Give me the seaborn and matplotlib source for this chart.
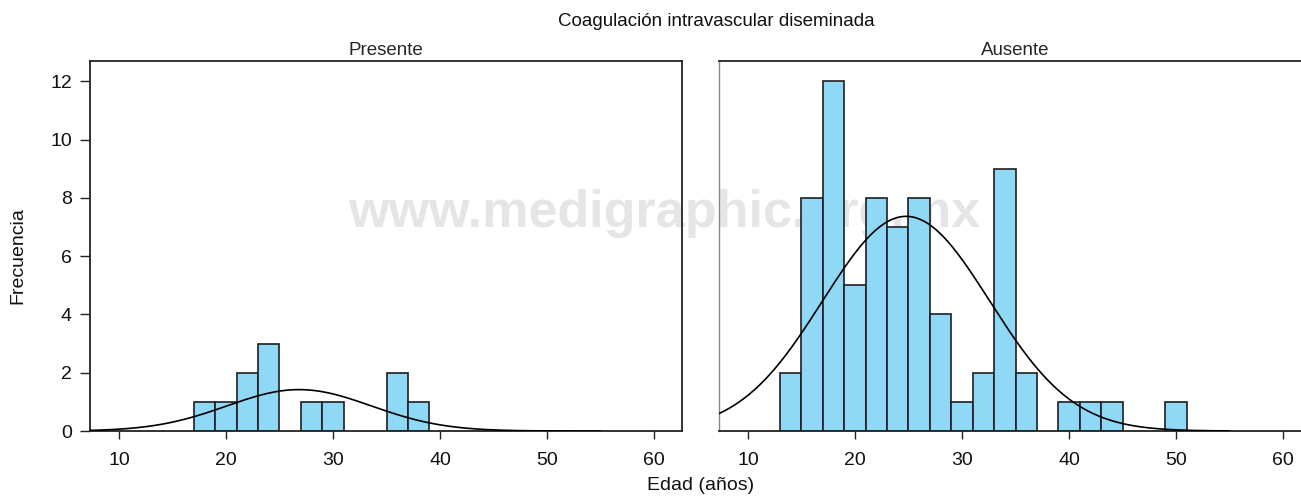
import numpy as np
import pandas as pd
import matplotlib
matplotlib.use("Agg")
import matplotlib.pyplot as plt
import seaborn as sns

# ---- data ----
presente_edad = [18, 20, 22, 24, 28, 30, 36, 38]          # bin midpoints (years)
presente_n = [1, 1, 2, 3, 1, 1, 2, 1]
ausente_edad = [14, 16, 18, 20, 22, 24, 26, 28, 30, 32, 34, 36, 40, 42, 44, 50]
ausente_n = [2, 8, 12, 5, 8, 7, 8, 4, 1, 2, 9, 2, 1, 1, 1, 1]
bin_edges = list(range(13, 53, 2))
panel_titles = ["Presente", "Ausente"]
x_ticks = [10, 20, 30, 40, 50, 60]
y_ticks = [0, 2, 4, 6, 8, 10, 12]

sns.set_theme(style="white")
plt.rcParams["font.family"] = ["Liberation Sans", "DejaVu Sans"]
plt.rcParams["font.size"] = 13

W, H = 1301, 499
fig = plt.figure(figsize=(W / 100, H / 100), dpi=100)

# watermark behind panels
wm = fig.text(664 / W, 1 - 213 / H, "www.medigraphic.org.mx", ha="center", va="center",
              fontsize=37.5, fontweight="bold", color="#e4e5e7")
wm.set_zorder(-5)

ax_l = fig.add_axes([90 / W, (H - 431) / H, 592 / W, 370 / H])
ax_r = fig.add_axes([719 / W, (H - 431) / H, 592 / W, 370 / H])

bar_color = "#8fd8f6"
edge = "#1e1e1e"
for ax, edad, n, title in [(ax_l, presente_edad, presente_n, panel_titles[0]),
                           (ax_r, ausente_edad, ausente_n, panel_titles[1])]:
    df = pd.DataFrame({"edad": edad, "n": n})
    ax.set_facecolor("none")
    ax.patch.set_alpha(0)
    sns.histplot(data=df, x="edad", weights="n", bins=bin_edges, ax=ax,
                 color=bar_color, alpha=1, edgecolor=edge, linewidth=1.2, zorder=2)
    for p in list(ax.patches):
        if p.get_height() == 0:
            p.remove()
    # fitted normal curve
    e = np.repeat(np.array(edad, float), n)
    mu, sd = e.mean(), e.std(ddof=1)
    xs = np.linspace(7.3, 55, 400)
    ys = len(e) * 2 / (sd * np.sqrt(2 * np.pi)) * np.exp(-0.5 * ((xs - mu) / sd) ** 2)
    sns.lineplot(x=xs, y=ys, ax=ax, color="black", linewidth=1.2, zorder=3)
    ax.set_xlim(7.3, 62.6)
    ax.set_ylim(0, 12.7)
    ax.set_xticks(x_ticks)
    ax.set_xlabel("")
    ax.set_ylabel("")
    ax.set_title(title, fontsize=13.5, pad=4)
    ax.tick_params(axis="x", direction="out", length=6, width=1, color="#222",
                   pad=9, labelsize=14, bottom=True, labelcolor="#111")
    for s in ax.spines.values():
        s.set_color("#222")
        s.set_linewidth(1.3)

ax_l.set_yticks(y_ticks)
ax_l.tick_params(axis="y", direction="out", length=7, width=1, color="#222",
                 pad=6, labelsize=14, left=True, labelcolor="#111")
ax_r.set_yticks([])
ax_r.spines["left"].set_color("#888")
ax_r.spines["left"].set_linewidth(1.0)

fig.text(716 / W, 1 - 22 / H, "Coagulación intravascular diseminada",
         ha="center", va="center", fontsize=13.5, color="#111")
fig.text(701 / W, 1 - 486 / H, "Edad (años)", ha="center", va="center", fontsize=14,
         color="#111")
fig.text(18 / W, 1 - 256 / H, "Frecuencia", ha="center", va="center",
         rotation=90, fontsize=14, color="#111")

fig.savefig("out.png", dpi=100)
